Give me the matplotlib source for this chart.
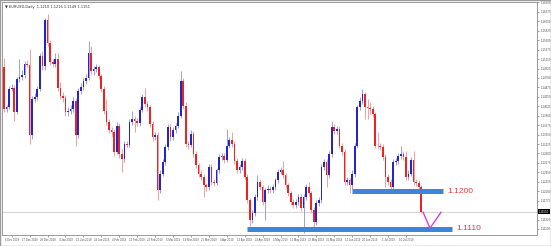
import matplotlib
matplotlib.use("Agg")
import matplotlib.pyplot as plt
import matplotlib.transforms as mtransforms
import numpy as np

# daily candles
first_open = 1.1495
closes = [
    1.1396, 1.1400, 1.1443, 1.1447, 1.1388, 1.1467, 1.1473, 1.1477, 1.1504, 1.1501,
    1.1333, 1.1420, 1.1425, 1.1443, 1.1522, 1.1499, 1.1609, 1.1554, 1.1507, 1.1503,
    1.1514, 1.1447, 1.1428, 1.1422, 1.1388, 1.1392, 1.1396, 1.1416, 1.1333, 1.1439,
    1.1449, 1.1463, 1.1471, 1.1530, 1.1487, 1.1491, 1.1495, 1.1475, 1.1443, 1.1392,
    1.1364, 1.1345, 1.1341, 1.1293, 1.1356, 1.1289, 1.1277, 1.1313, 1.1311, 1.1364,
    1.1372, 1.1367, 1.1362, 1.1394, 1.1424, 1.1408, 1.1400, 1.1360, 1.1329, 1.1333,
    1.1202, 1.1242, 1.1269, 1.1305, 1.1353, 1.1329, 1.1345, 1.1356, 1.1380, 1.1463,
    1.1404, 1.1313, 1.1311, 1.1337, 1.1289, 1.1262, 1.1242, 1.1234, 1.1214, 1.1210,
    1.1258, 1.1222, 1.1220, 1.1250, 1.1282, 1.1285, 1.1275, 1.1309, 1.1321, 1.1313,
    1.1273, 1.1250, 1.1258, 1.1273, 1.1234, 1.1179, 1.1131, 1.1147, 1.1187, 1.1222,
    1.1210, 1.1175, 1.1202, 1.1206, 1.1202, 1.1210, 1.1226, 1.1246, 1.1250, 1.1238,
    1.1214, 1.1195, 1.1175, 1.1167, 1.1175, 1.1187, 1.1159, 1.1187, 1.1210, 1.1195,
    1.1155, 1.1127, 1.1171, 1.1179, 1.1258, 1.1269, 1.1238, 1.1289, 1.1353, 1.1343,
    1.1349, 1.1309, 1.1293, 1.1222, 1.1226, 1.1214, 1.1242, 1.1309, 1.1400, 1.1416,
    1.1431, 1.1400, 1.1398, 1.1396, 1.1384, 1.1309, 1.1307, 1.1305, 1.1282, 1.1234,
    1.1222, 1.1210, 1.1269, 1.1272, 1.1283, 1.1289, 1.1282, 1.1234, 1.1242, 1.1275,
    1.1222, 1.1220, 1.1210, 1.1151,
]
highs = [
    1.1518, 1.1406, 1.1450, 1.1455, 1.1452, 1.1472, 1.1514, 1.1490, 1.1510, 1.1512,
    1.1538, 1.1426, 1.1433, 1.1450, 1.1530, 1.1535, 1.1614, 1.1622, 1.1560, 1.1515,
    1.1530, 1.1530, 1.1460, 1.1436, 1.1430, 1.1400, 1.1406, 1.1424, 1.1422, 1.1445,
    1.1458, 1.1470, 1.1480, 1.1558, 1.1545, 1.1498, 1.1503, 1.1500, 1.1480, 1.1450,
    1.1420, 1.1372, 1.1352, 1.1348, 1.1364, 1.1362, 1.1300, 1.1320, 1.1320, 1.1372,
    1.1392, 1.1380, 1.1375, 1.1400, 1.1432, 1.1447, 1.1415, 1.1405, 1.1368, 1.1340,
    1.1340, 1.1250, 1.1276, 1.1312, 1.1360, 1.1360, 1.1352, 1.1362, 1.1388, 1.1487,
    1.1470, 1.1412, 1.1320, 1.1345, 1.1343, 1.1295, 1.1268, 1.1250, 1.1240, 1.1220,
    1.1265, 1.1264, 1.1230, 1.1256, 1.1288, 1.1292, 1.1292, 1.1349, 1.1330, 1.1341,
    1.1320, 1.1280, 1.1265, 1.1280, 1.1280, 1.1240, 1.1185, 1.1155, 1.1194, 1.1238,
    1.1228, 1.1216, 1.1208, 1.1214, 1.1212, 1.1218, 1.1232, 1.1252, 1.1258, 1.1273,
    1.1244, 1.1220, 1.1200, 1.1182, 1.1182, 1.1194, 1.1194, 1.1194, 1.1218, 1.1222,
    1.1200, 1.1162, 1.1178, 1.1186, 1.1265, 1.1276, 1.1276, 1.1296, 1.1367, 1.1360,
    1.1356, 1.1356, 1.1316, 1.1300, 1.1234, 1.1232, 1.1250, 1.1316, 1.1406, 1.1424,
    1.1443, 1.1436, 1.1420, 1.1412, 1.1402, 1.1390, 1.1341, 1.1315, 1.1312, 1.1288,
    1.1240, 1.1228, 1.1276, 1.1280, 1.1290, 1.1309, 1.1296, 1.1297, 1.1250, 1.1282,
    1.1297, 1.1228, 1.1226, 1.1216,
]
lows = [
    1.1390, 1.1388, 1.1396, 1.1438, 1.1368, 1.1383, 1.1460, 1.1465, 1.1470, 1.1495,
    1.1313, 1.1325, 1.1412, 1.1418, 1.1438, 1.1490, 1.1490, 1.1546, 1.1500, 1.1495,
    1.1497, 1.1440, 1.1420, 1.1412, 1.1380, 1.1380, 1.1385, 1.1390, 1.1309, 1.1328,
    1.1432, 1.1442, 1.1455, 1.1465, 1.1480, 1.1478, 1.1484, 1.1468, 1.1436, 1.1385,
    1.1358, 1.1338, 1.1332, 1.1285, 1.1288, 1.1280, 1.1246, 1.1270, 1.1305, 1.1305,
    1.1358, 1.1341, 1.1355, 1.1356, 1.1388, 1.1400, 1.1392, 1.1352, 1.1320, 1.1322,
    1.1179, 1.1195, 1.1236, 1.1262, 1.1298, 1.1320, 1.1322, 1.1338, 1.1350, 1.1374,
    1.1396, 1.1305, 1.1300, 1.1305, 1.1282, 1.1255, 1.1235, 1.1226, 1.1187, 1.1200,
    1.1204, 1.1215, 1.1212, 1.1214, 1.1244, 1.1275, 1.1268, 1.1270, 1.1302, 1.1306,
    1.1266, 1.1243, 1.1243, 1.1250, 1.1226, 1.1172, 1.1116, 1.1124, 1.1140, 1.1180,
    1.1202, 1.1167, 1.1131, 1.1195, 1.1195, 1.1196, 1.1204, 1.1220, 1.1240, 1.1232,
    1.1207, 1.1188, 1.1168, 1.1160, 1.1160, 1.1168, 1.1152, 1.1100, 1.1180, 1.1188,
    1.1148, 1.1115, 1.1120, 1.1164, 1.1172, 1.1250, 1.1210, 1.1232, 1.1282, 1.1336,
    1.1336, 1.1302, 1.1286, 1.1215, 1.1214, 1.1195, 1.1206, 1.1235, 1.1302, 1.1394,
    1.1408, 1.1372, 1.1372, 1.1385, 1.1376, 1.1302, 1.1300, 1.1298, 1.1275, 1.1210,
    1.1215, 1.1202, 1.1204, 1.1262, 1.1265, 1.1276, 1.1275, 1.1226, 1.1226, 1.1236,
    1.1215, 1.1212, 1.1203, 1.1149,
]

date_bars = [3, 10, 17, 24, 31, 38, 45, 52, 59, 66, 73, 80, 87, 94, 101, 108, 115, 122, 129, 136, 143, 150, 157]
date_labels = ["6 Dec 2018", "17 Dec 2018", "26 Dec 2018", "4 Jan 2019", "15 Jan 2019", "24 Jan 2019",
               "4 Feb 2019", "13 Feb 2019", "22 Feb 2019", "5 Mar 2019", "14 Mar 2019", "25 Mar 2019",
               "3 Apr 2019", "12 Apr 2019", "23 Apr 2019", "2 May 2019", "13 May 2019", "22 May 2019",
               "31 May 2019", "11 Jun 2019", "20 Jun 2019", "1 Jul 2019", "10 Jul 2019"]

# drawn levels (bar index where the line starts / ends)
levels = [1.1200, 1.1110]
level_text = ["1.1200", "1.1110"]
level_start = [136, 95]
level_end = [171.5, 175]

# the pink "V" projection
v_x = [163.7, 166.4, 170.7]
v_y = [1.1150, 1.1112, 1.1150]

opens = [first_open] + closes[:-1]
o = np.array(opens)
c = np.array(closes)
h = np.array(highs)
l = np.array(lows)
x = np.arange(len(c))
up = c >= o

fig = plt.figure(figsize=(5.51, 2.46), dpi=100)
ax = fig.add_axes([2 / 551, 11 / 246, 535 / 551, 233 / 246])

wick_col = np.where(up, "#9c9cf0", "#f3a0a0")
ax.vlines(x, l, h, colors=wick_col, linewidth=0.7, zorder=2)
body_col = np.where(up, "#2424c8", "#ee2222")
body_h = np.maximum(np.abs(c - o), 0.00012)
ax.bar(x, body_h, bottom=np.minimum(o, c), width=0.66, color=body_col, linewidth=0, zorder=3)

# current price line
ax.axhline(c[-1], color="#d8d8d8", linewidth=0.8, zorder=1)

for lv, txt, x0, x1 in zip(levels, level_text, level_start, level_end):
    ax.plot([x0, x1], [lv, lv], color="#3d85d8", linewidth=3.6, solid_capstyle="butt", zorder=4)
    ax.text(x1 + 1.8, lv, txt, color="#e8393a", fontsize=6, family="Liberation Sans",
            va="center", ha="left")

ax.plot(v_x, v_y, color="#cc44dd", linewidth=1.0, zorder=5)

ax.set_xlim(-0.8, 208.2)
ax.set_ylim(1.10957, 1.1651)

yt = 1.1200 + 0.00225 * np.arange(-4, 21)
ax.yaxis.tick_right()
ax.set_yticks(yt)
ax.set_yticklabels([f"{v:.5f}" for v in yt], family="Liberation Sans")
ax.tick_params(axis="y", labelsize=2.1, length=1.5, width=0.4, pad=1, colors="#505050")
ax.set_xticks(date_bars)
ax.set_xticklabels(date_labels, family="Liberation Sans")
ax.tick_params(axis="x", labelsize=2.0, length=1.5, width=0.4, pad=1, colors="#505050")

for s in ax.spines.values():
    s.set_color("#9a9a9a")
    s.set_linewidth(0.7)

trans = mtransforms.blended_transform_factory(ax.transAxes, ax.transData)
ax.text(1.004, c[-1], f"{c[-1]:.5f}", transform=trans, fontsize=2.1, color="white",
        family="Liberation Sans", va="center", ha="left",
        bbox=dict(facecolor="black", edgecolor="none", pad=0.5))

ax.text(0.006, 0.985, "\u25bc EURUSD,Daily  %.4f %.4f %.4f %.4f" % (o[-1], h[-1], l[-1], c[-1]),
        transform=ax.transAxes, fontsize=2.6, color="#303030", va="top", ha="left")

fig.add_artist(plt.Rectangle((0, 0), 1, 1, transform=fig.transFigure, fill=False,
                             edgecolor="#9a9a9a", linewidth=1))

fig.savefig("out.png", dpi=100)
